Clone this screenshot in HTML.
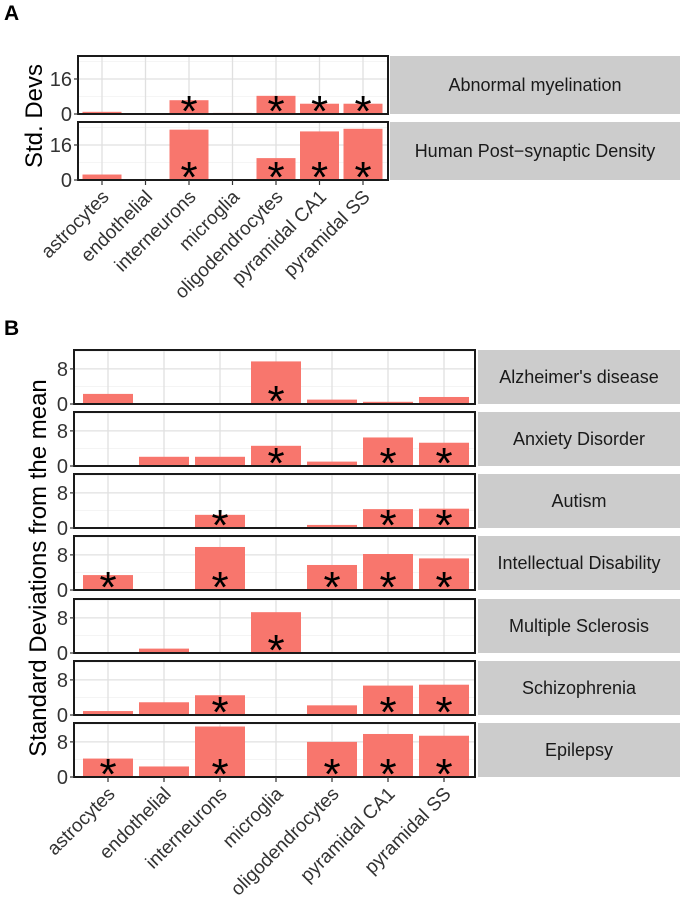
<!DOCTYPE html>
<html><head><meta charset="utf-8"><style>
body{margin:0;background:#fff;}
svg{display:block;font-family:"Liberation Sans",Arial,sans-serif;}
</style></head><body>
<svg id="c" width="680" height="922" xmlns="http://www.w3.org/2000/svg"></svg>
<script>
const categories=["astrocytes","endothelial","interneurons","microglia","oligodendrocytes","pyramidal CA1","pyramidal SS"];
const panelANames=["Abnormal myelination","Human Post\u2212synaptic Density"];
const panelAValues=[[1,0,6.3,0.5,8.3,4.7,4.7],[2.5,0,23,0,10,22.2,23.4]];
const panelAStars=[[0,0,1,0,1,1,1],[0,0,1,0,1,1,1]];
const panelATicks=[0,16];
const panelBNames=["Alzheimer's disease","Anxiety Disorder","Autism","Intellectual Disability","Multiple Sclerosis","Schizophrenia","Epilepsy"];
const panelBValues=[
[2.3,0,0,9.7,1.0,0.5,1.6],
[0,2.1,2.1,4.6,1.0,6.5,5.3],
[0,0,3.0,0,0.7,4.3,4.4],
[3.4,0,9.8,0,5.7,8.2,7.2],
[0,1.0,0,9.3,0,0,0],
[0.9,2.9,4.5,0,2.2,6.7,6.9],
[4.2,2.4,11.5,0,8.0,9.8,9.4]];
const panelBStars=[
[0,0,0,1,0,0,0],[0,0,0,1,0,1,1],[0,0,1,0,0,1,1],[1,0,1,0,1,1,1],[0,0,0,1,0,0,0],[0,0,1,0,0,1,1],[1,0,1,0,1,1,1]];
const panelBTicks=[0,8];

const NS="http://www.w3.org/2000/svg";
const svg=document.getElementById('c');
function mk(tag,attrs,parent){const e=document.createElementNS(NS,tag);for(const k in attrs)e.setAttribute(k,attrs[k]);(parent||svg).appendChild(e);return e;}

function drawGroup(cfg){
  const {names,values,stars,ticks,yMax,minor,plotL,plotR,firstC,step,barW,tops,h,stripL,gname}=cfg;
  const xC=i=>firstC+i*step;
  names.forEach((nm,p)=>{
    const top=tops[p],bot=top+h;
    const y=v=>bot-v/yMax*h;
    const g=mk('g',{});
    
    
    mk('rect',{x:plotL,y:top,width:plotR-plotL,height:h,fill:'#fff'},g);
    minor.forEach(v=>{mk('line',{x1:plotL,x2:plotR,y1:y(v),y2:y(v),stroke:'#f2f2f2','stroke-width':0.8},g);});
    ticks.forEach(v=>{mk('line',{x1:plotL,x2:plotR,y1:y(v),y2:y(v),stroke:'#e0e0e0','stroke-width':1.3},g);});
    categories.forEach((c,i)=>{mk('line',{x1:xC(i),x2:xC(i),y1:top,y2:bot,stroke:'#e0e0e0','stroke-width':1.3},g);});
    values[p].forEach((v,i)=>{
      if(v<=0)return;
      const r=mk('rect',{x:xC(i)-barW/2,y:y(v),width:barW,height:bot-y(v),fill:'#f8766d'},g);
      
      
    });
    const cp=mk('clipPath',{id:'cp-'+gname+p},g);
    mk('rect',{x:plotL,y:top,width:plotR-plotL,height:h},cp);
    stars[p].forEach((s,i)=>{
      if(!s)return;
      const t=mk('text',{x:xC(i),y:bot+12,'text-anchor':'middle','font-size':44,fill:'#000','clip-path':'url(#cp-'+gname+p+')'},g);
      t.textContent='*';
      
      
    });
    mk('rect',{x:plotL,y:top,width:plotR-plotL,height:h,fill:'none',stroke:'#1a1a1a','stroke-width':2},g);
    ticks.forEach(v=>{
      mk('line',{x1:plotL-4,x2:plotL,y1:y(v),y2:y(v),stroke:'#333','stroke-width':1.2},g);
      const t=mk('text',{x:plotL-6,y:y(v)+7,'text-anchor':'end','font-size':20,fill:'#333'},g);
      t.textContent=v;
      
      
    });
    const st=mk('rect',{x:stripL,y:top,width:680-stripL,height:h,fill:'#cccccc'},g);
    
    
    const sl=mk('text',{x:(stripL+680)/2,y:top+h/2+6,'text-anchor':'middle','font-size':18,fill:'#1a1a1a'},g);
    sl.textContent=nm;
    
    
  });
  const last=tops[tops.length-1]+h;
  categories.forEach((c,i)=>{
    mk('line',{x1:xC(i),x2:xC(i),y1:last,y2:last+5,stroke:'#333','stroke-width':1.2});
    const t=mk('text',{x:xC(i)+8,y:last+18,'text-anchor':'end','font-size':19,fill:'#333',transform:`rotate(-45 ${xC(i)+8} ${last+18})`});
    t.textContent=c;
    
    
  });
}

drawGroup({names:panelANames,values:panelAValues,stars:panelAStars,ticks:panelATicks,yMax:26.5,minor:[8,24],
  plotL:78,plotR:388,firstC:102,step:43.5,barW:39,tops:[56,122],h:58,stripL:390,gname:'panel-a'});
drawGroup({names:panelBNames,values:panelBValues,stars:panelBStars,ticks:panelBTicks,yMax:12.3,minor:[4,12],
  plotL:74,plotR:475,firstC:108,step:56,barW:50,tops:[350,412,474,536,599,661,723],h:54,stripL:478,gname:'panel-b'});

let t=mk('text',{x:4,y:20,'font-size':21,'font-weight':'bold',fill:'#000'});t.textContent='A';

t=mk('text',{x:4,y:335,'font-size':21,'font-weight':'bold',fill:'#000'});t.textContent='B';

t=mk('text',{x:0,y:0,'font-size':24,'text-anchor':'middle',fill:'#000',transform:'translate(42,116) rotate(-90)'});t.textContent='Std. Devs';

t=mk('text',{x:0,y:0,'font-size':24,'text-anchor':'middle',fill:'#000',transform:'translate(46,568) rotate(-90)'});t.textContent='Standard Deviations from the mean';

</script>
</body></html>
